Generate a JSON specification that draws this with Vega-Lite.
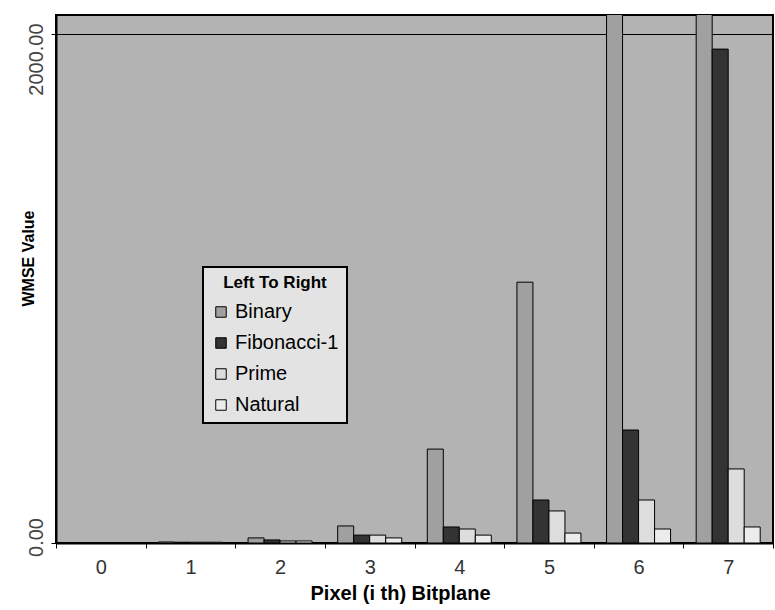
{
  "$schema": "https://vega.github.io/schema/vega-lite/v6.json",
  "width": 717,
  "height": 528,
  "autosize": {"type": "none"},
  "padding": {"left": 56, "top": 15, "right": 2, "bottom": 67},
  "background": "white",
  "config": {
    "font": "Liberation Sans",
    "view": {"fill": "#b3b3b3", "stroke": "black", "strokeWidth": 2},
    "legend": {"strokeWidth": 2}
  },
  "data": {
    "values": [
      {"bitplane": "0", "method": "Binary", "wmse": 0.5},
      {"bitplane": "0", "method": "Fibonacci-1", "wmse": 0.3},
      {"bitplane": "0", "method": "Prime", "wmse": 0.2},
      {"bitplane": "0", "method": "Natural", "wmse": 0.2},
      {"bitplane": "1", "method": "Binary", "wmse": 4},
      {"bitplane": "1", "method": "Fibonacci-1", "wmse": 3},
      {"bitplane": "1", "method": "Prime", "wmse": 3},
      {"bitplane": "1", "method": "Natural", "wmse": 3},
      {"bitplane": "2", "method": "Binary", "wmse": 20},
      {"bitplane": "2", "method": "Fibonacci-1", "wmse": 12},
      {"bitplane": "2", "method": "Prime", "wmse": 8},
      {"bitplane": "2", "method": "Natural", "wmse": 8},
      {"bitplane": "3", "method": "Binary", "wmse": 67},
      {"bitplane": "3", "method": "Fibonacci-1", "wmse": 31},
      {"bitplane": "3", "method": "Prime", "wmse": 31},
      {"bitplane": "3", "method": "Natural", "wmse": 20},
      {"bitplane": "4", "method": "Binary", "wmse": 369},
      {"bitplane": "4", "method": "Fibonacci-1", "wmse": 63},
      {"bitplane": "4", "method": "Prime", "wmse": 55},
      {"bitplane": "4", "method": "Natural", "wmse": 31},
      {"bitplane": "5", "method": "Binary", "wmse": 1025},
      {"bitplane": "5", "method": "Fibonacci-1", "wmse": 169},
      {"bitplane": "5", "method": "Prime", "wmse": 126},
      {"bitplane": "5", "method": "Natural", "wmse": 39},
      {"bitplane": "6", "method": "Binary", "wmse": 4100},
      {"bitplane": "6", "method": "Fibonacci-1", "wmse": 444},
      {"bitplane": "6", "method": "Prime", "wmse": 169},
      {"bitplane": "6", "method": "Natural", "wmse": 55},
      {"bitplane": "7", "method": "Binary", "wmse": 16400},
      {"bitplane": "7", "method": "Fibonacci-1", "wmse": 1941},
      {"bitplane": "7", "method": "Prime", "wmse": 291},
      {"bitplane": "7", "method": "Natural", "wmse": 63}
    ]
  },
  "mark": {"type": "bar", "stroke": "black", "strokeWidth": 1, "clip": true},
  "encoding": {
    "x": {
      "field": "bitplane",
      "type": "ordinal",
      "scale": {"paddingInner": 0, "paddingOuter": 0},
      "axis": {
        "title": "Pixel (i th) Bitplane",
        "labelAngle": 0,
        "labelFontSize": 20,
        "labelColor": "#333333",
        "labelBaseline": "top",
        "labelPadding": 9,
        "tickBand": "extent",
        "tickSize": 5,
        "tickColor": "black",
        "domainColor": "black",
        "domainWidth": 2,
        "grid": false,
        "titleFontSize": 20,
        "titleFontWeight": "bold",
        "titleColor": "black",
        "titleX": 344,
        "titleY": 56,
        "titleAlign": "center",
        "titleBaseline": "alphabetic"
      }
    },
    "xOffset": {
      "field": "method",
      "type": "nominal",
      "sort": ["Binary", "Fibonacci-1", "Prime", "Natural"],
      "scale": {"paddingInner": 0, "paddingOuter": 0.8}
    },
    "y": {
      "field": "wmse",
      "type": "quantitative",
      "scale": {"domain": [0, 2075], "nice": false, "zero": true},
      "axis": {
        "title": "WMSE Value",
        "values": [0, 2000],
        "format": ".2f",
        "labelAngle": -90,
        "labelAlign": "center",
        "labelBaseline": "alphabetic",
        "labelFontSize": 20,
        "labelColor": "#444444",
        "labelPadding": 9,
        "labelFlush": false,
        "labelOverlap": false,
        "labelOffset": {"condition": {"test": "datum.value == 2000", "value": 25}, "value": -6},
        "tickSize": 5,
        "tickColor": "black",
        "domainColor": "black",
        "domainWidth": 2,
        "grid": true,
        "gridColor": "black",
        "gridWidth": 1,
        "titleFontSize": 16,
        "titleFontWeight": "bold",
        "titleColor": "black",
        "titleAngle": -90,
        "titleX": -28,
        "titleY": 243,
        "titleAlign": "center",
        "titleBaseline": "middle"
      }
    },
    "color": {
      "field": "method",
      "type": "nominal",
      "scale": {
        "domain": ["Binary", "Fibonacci-1", "Prime", "Natural"],
        "range": ["#a0a0a0", "#333333", "#dddddd", "#ececec"]
      },
      "legend": {
        "title": "Left To Right",
        "orient": "none",
        "legendX": 147,
        "legendY": 252,
        "direction": "vertical",
        "fillColor": "#e3e3e3",
        "strokeColor": "black",
        "padding": 8,
        "titleFontSize": 17,
        "titleFontWeight": "bold",
        "titleColor": "black",
        "titleAnchor": "middle",
        "titlePadding": 10,
        "labelFontSize": 20,
        "labelColor": "black",
        "labelOffset": 4,
        "rowPadding": 11,
        "symbolType": "square",
        "symbolSize": 110,
        "symbolStrokeColor": "black",
        "symbolStrokeWidth": 1
      }
    }
  }
}
